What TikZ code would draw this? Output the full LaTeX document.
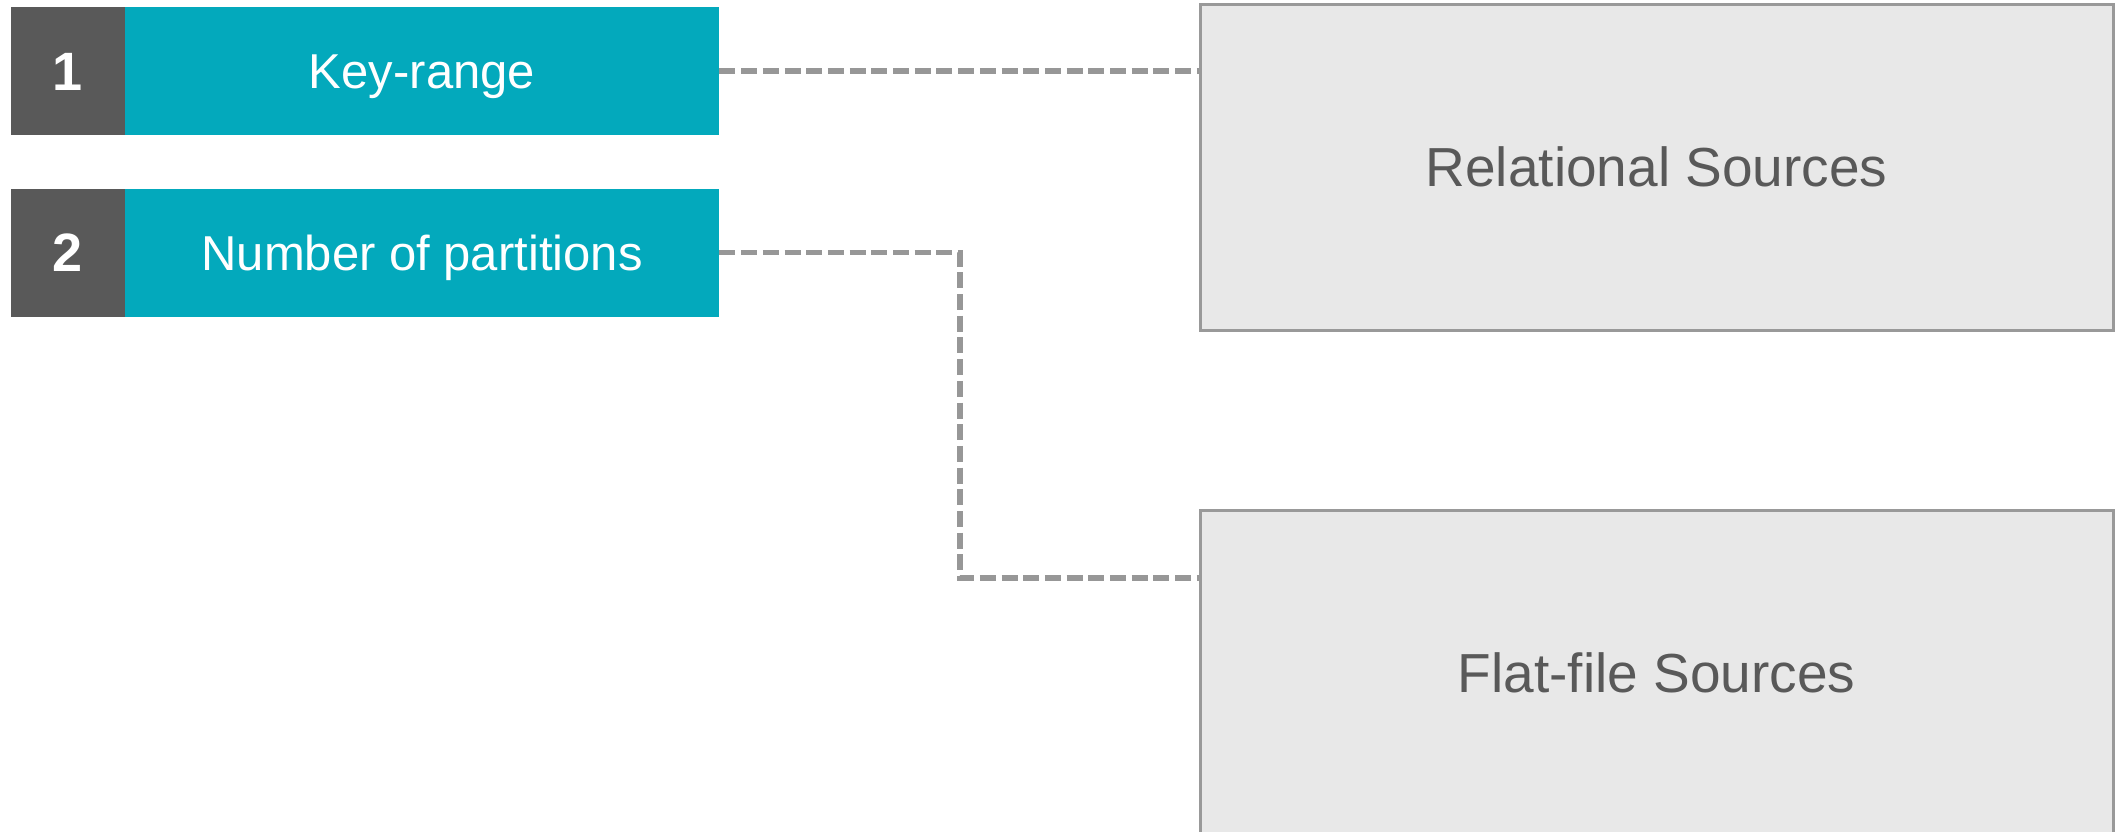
\documentclass[tikz,border=0pt]{standalone}
\usepackage{fontspec}
\setmainfont{Liberation Sans}
\definecolor{tealc}{HTML}{03A9BC}
\definecolor{numc}{HTML}{595959}
\definecolor{boxfill}{HTML}{E8E8E8}
\definecolor{boxline}{HTML}{999999}
\definecolor{txtc}{HTML}{595959}
\definecolor{dashc}{HTML}{979797}
\begin{document}
\begin{tikzpicture}[x=0.5pt,y=-0.5pt,
  numbox/.style={rectangle, inner sep=0pt, text height=19.3pt, text depth=0pt, fill=numc, text=white, minimum width=57pt, minimum height=64pt, font=\fontsize{27}{32}\selectfont\bfseries},
  tealbox/.style={rectangle, inner sep=0pt, text height=17.5pt, text depth=0pt, fill=tealc, text=white, minimum width=297pt, minimum height=64pt, font=\fontsize{24.5}{29}\selectfont},
  srclabel/.style={inner sep=0pt, text height=19.7pt, text depth=0pt, text=txtc, font=\fontsize{27.5}{32}\selectfont},
  srcbox/.style={rectangle, srclabel, fill=boxfill, draw=boxline, line width=1.5pt, minimum width=456.5pt},
  conn/.style={draw=dashc, line width=2.6pt, dash pattern=on 8pt off 2.85pt}
]
\useasboundingbox (0,0) rectangle (2115,831);
\clip (0,0) rectangle (2115,831);
\node[numbox] (n1) at (68,71) {1};
\node[tealbox] (t1) at (422,71) {Key-range};
\node[numbox] (n2) at (68,252.5) {2};
\node[tealbox] (t2) at (422,252.5) {Number of partitions};
\node[srcbox, minimum height=163pt] (rel) at (1656.5,167) {Relational Sources};
\node[srcbox, minimum height=164pt] (flat) at (1656.5,674) {};
\node[srclabel] (flatlbl) at (1656.5,673) {Flat-file Sources};
\coordinate (bend1) at (960,252.5);
\coordinate (bend2) at (960,578);
\draw[conn] (t1.east) -- (rel.west |- t1.east);
\draw[conn] (t2.east) -- (bend1) -- (bend2) -- (bend2 -| flat.west);
\end{tikzpicture}
\end{document}
